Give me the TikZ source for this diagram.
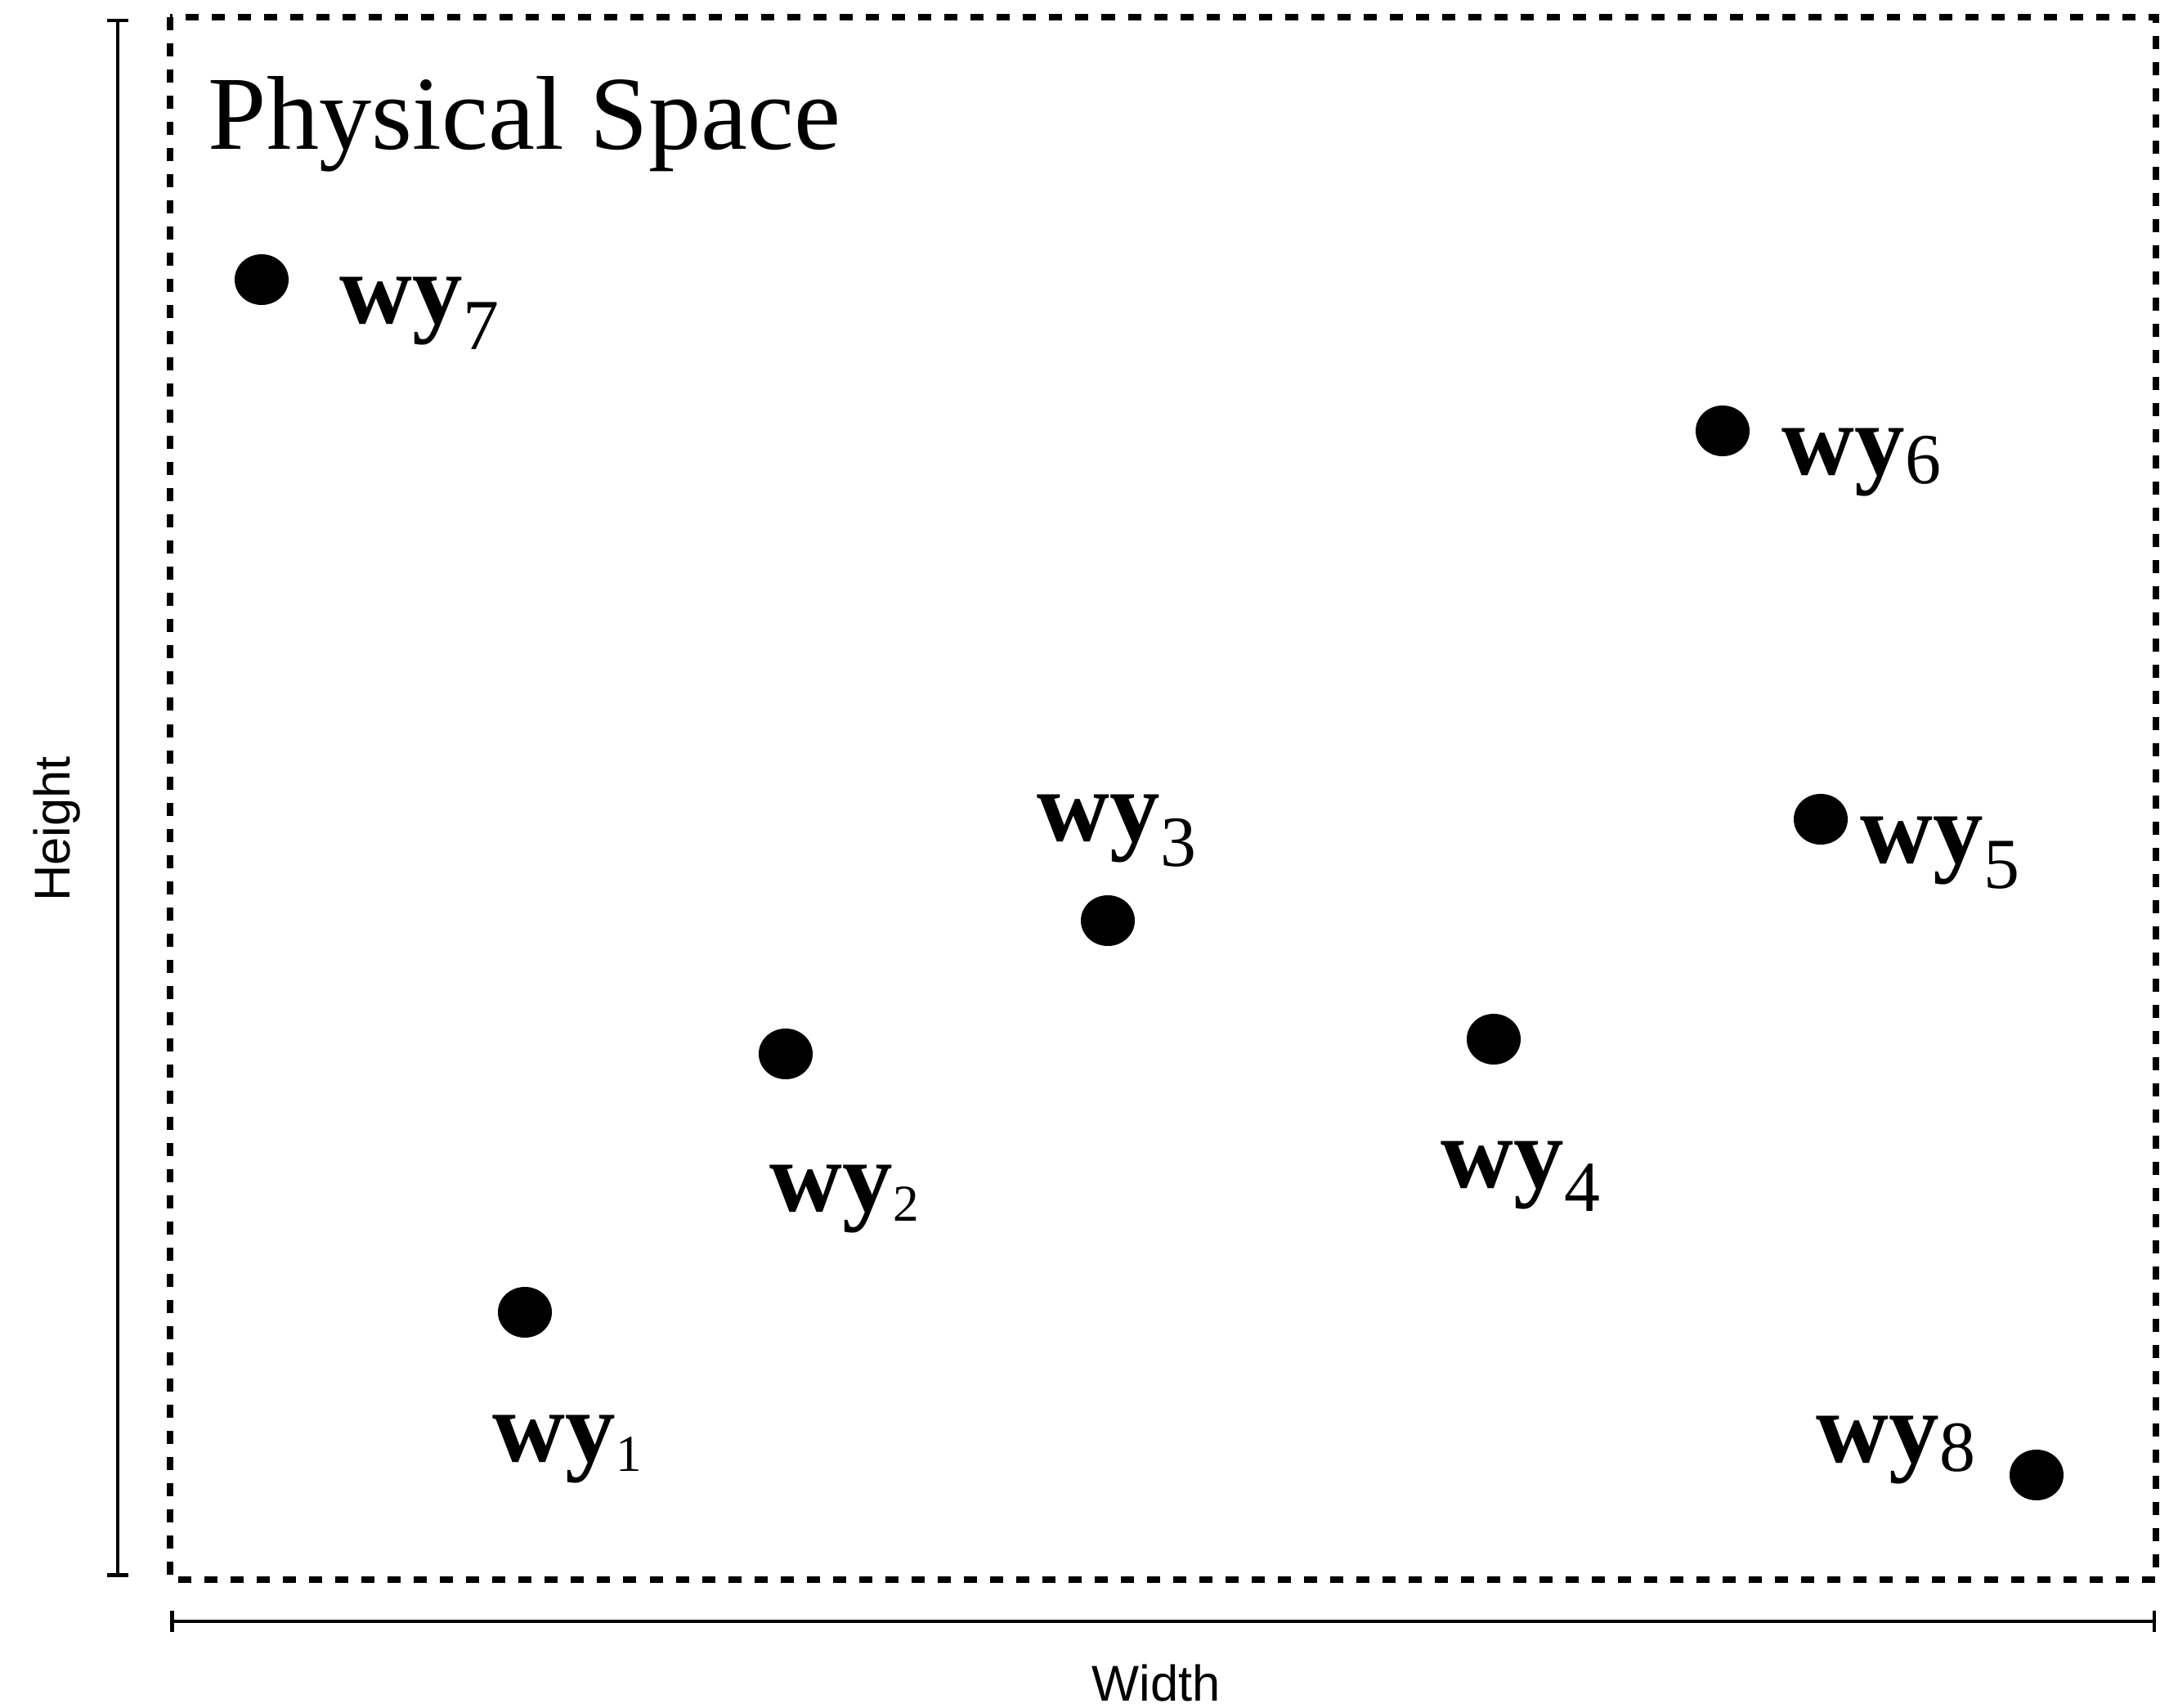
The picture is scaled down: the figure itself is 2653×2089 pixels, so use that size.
\documentclass[tikz,border=0pt]{standalone}
\usepackage{fontspec}
\setmainfont{Liberation Serif}
\newfontfamily\axisfont{Liberation Sans}
\usetikzlibrary{arrows.meta, shapes.geometric}

% waypoint name: bold "wy", then a lowered digit
\newcommand{\wyname}[3]{\textbf{wy}\raisebox{#2}{\fontsize{#3}{#3}\selectfont #1}}

\begin{document}
\begin{tikzpicture}[
  x=0.01cm, y=-0.01cm,
  waypoint/.style={ellipse, fill=black, minimum width=0.66cm, minimum height=0.62cm, inner sep=0pt},
  wylab/.style={anchor=base west, inner sep=0pt, font=\fontsize{35}{35}\selectfont},
  frame/.style={line width=0.08cm, dash pattern=on 0.16cm off 0.16cm},
  axis/.style={line width=0.045cm, {Bar[width=0.26cm]}-{Bar[width=0.26cm]}},
  axislabel/.style={font=\axisfont\fontsize{17.5}{17.5}\selectfont, inner sep=0pt}
]
  \useasboundingbox (0,0) rectangle (2653,2089);

  %--- Frame and title ---
  \draw[frame] (208,21) rectangle (2637,1932);
  \node[anchor=base west, inner sep=0pt, font=\fontsize{36.5}{36.5}\selectfont]
    (title) at (254,183) {Physical Space};

  %--- Axes ---
  \coordinate (htop) at (144,23);
  \coordinate (hbot) at (144,1929);
  \draw[axis] (htop) -- (hbot);
  \node[axislabel, rotate=90, anchor=base] (hlab) at (85,1014) {Height};

  \coordinate (wleft)  at (208,1983);
  \coordinate (wright) at (2637,1983);
  \draw[axis] (wleft) -- (wright);
  \node[axislabel, anchor=base] (wlab) at (1414,2081) {Width};

  %--- Waypoints ---
  \node[waypoint] (p1) at (642,1605) {};
  \node[wylab]    (l1) at (602,1788) {\wyname{1}{-0.11cm}{18}};

  \node[waypoint] (p2) at (961,1289) {};
  \node[wylab]    (l2) at (941,1482) {\wyname{2}{-0.11cm}{18}};

  \node[waypoint] (p3) at (1355,1126) {};
  \node[wylab]    (l3) at (1268,1029) {\wyname{3}{-0.30cm}{25}};

  \node[waypoint] (p4) at (1827,1271) {};
  \node[wylab]    (l4) at (1762,1453) {\wyname{4}{-0.28cm}{25}};

  \node[waypoint] (p5) at (2227,1002) {};
  \node[wylab]    (l5) at (2275,1056) {\wyname{5}{-0.30cm}{25}};

  \node[waypoint] (p6) at (2107,527) {};
  \node[wylab]    (l6) at (2179,581) {\wyname{6}{-0.11cm}{25}};

  \node[waypoint] (p7) at (320,342) {};
  \node[wylab]    (l7) at (415,396) {\wyname{7}{-0.31cm}{25}};

  \node[waypoint] (p8) at (2491,1804) {};
  \node[wylab]    (l8) at (2221,1789) {\wyname{8}{-0.10cm}{25}};

\end{tikzpicture}
\end{document}
